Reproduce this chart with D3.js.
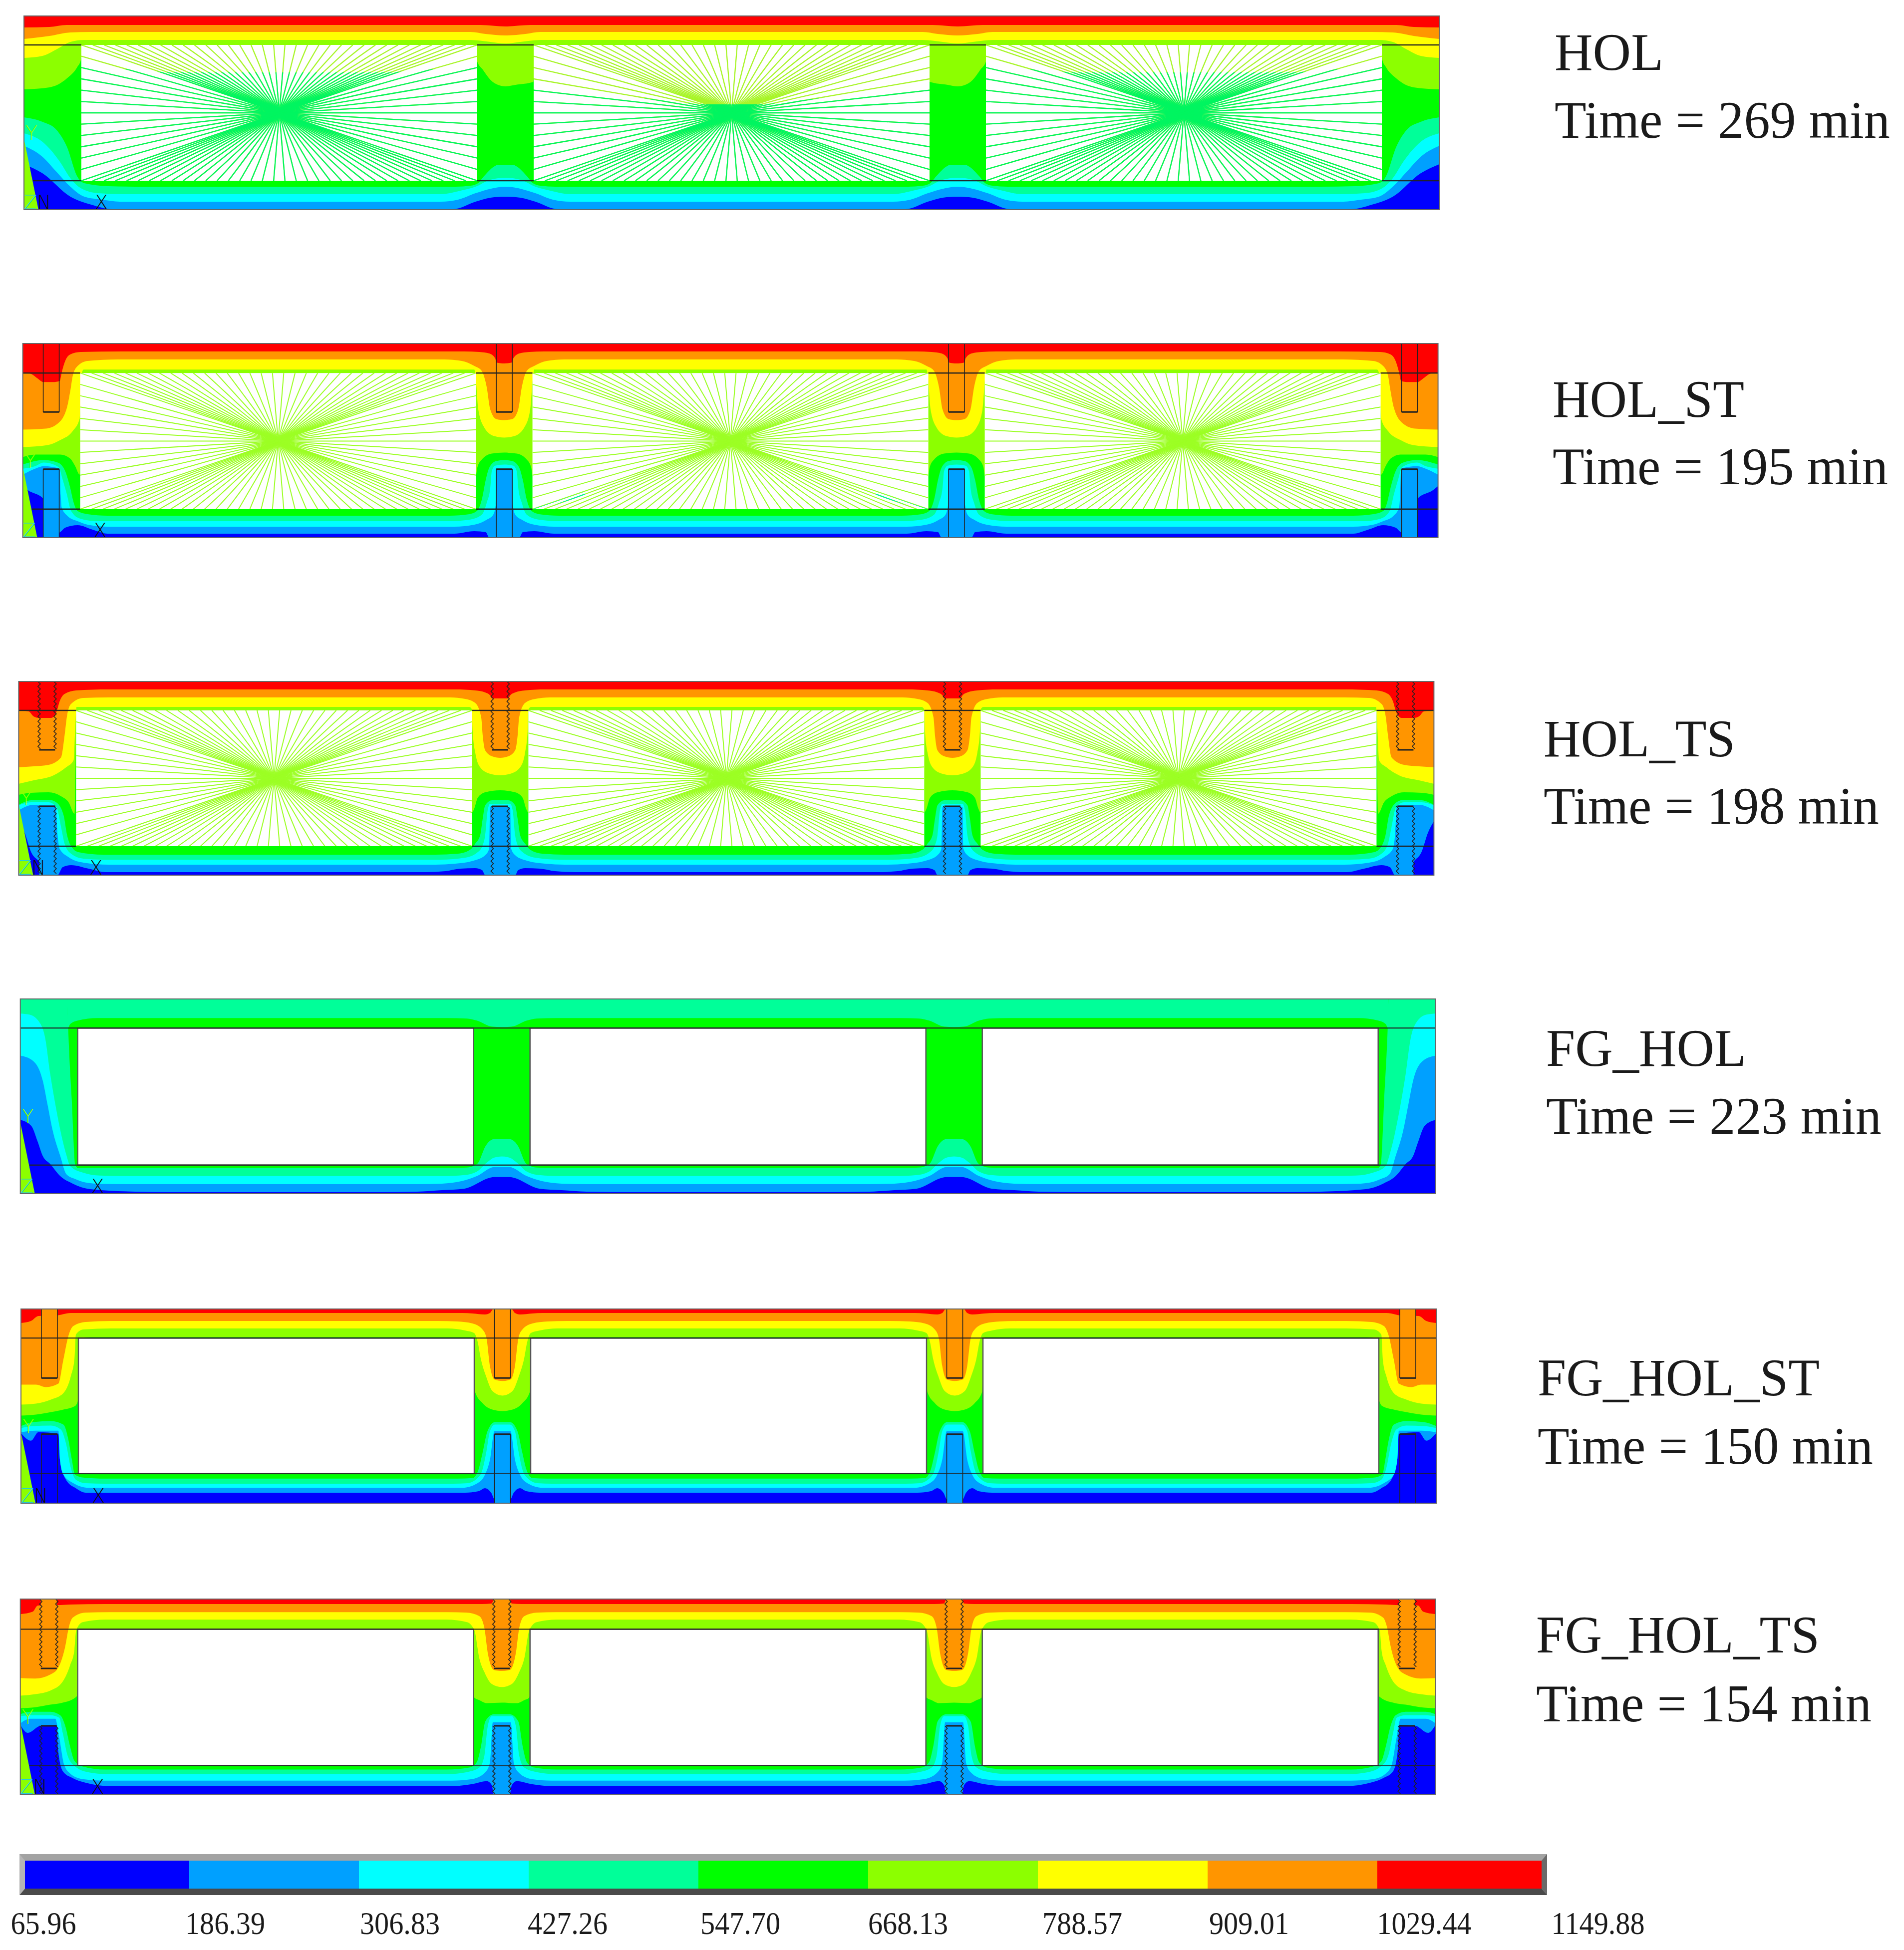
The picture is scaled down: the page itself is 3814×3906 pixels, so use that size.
<!DOCTYPE html>
<html>
<head>
<meta charset="utf-8">
<script src="https://cdnjs.cloudflare.com/ajax/libs/d3/7.8.5/d3.min.js"></script>
<style>
  body { margin: 0; background: #fff; }
  text { font-family: 'Liberation Serif', serif; fill: #1a1a1a; }
  .triad { font-family: 'DejaVu Sans', sans-serif; font-weight: 200; }
</style>
</head>
<body>
<div class="chart"></div>
<script>
const svgWidth = 3814;
const svgHeight = 3906;

// Legend
const tempTicks = [65.96, 186.39, 306.83, 427.26, 547.70, 668.13, 788.57, 909.01, 1029.44, 1149.88];
const tickText = ['65.96', '186.39', '306.83', '427.26', '547.70', '668.13', '788.57', '909.01', '1029.44', '1149.88'];
const bandNames = ['blue', 'azure', 'cyan', 'spring', 'green', 'lime', 'yellow', 'orange', 'red'];
const bandColors = ['#0000ff', '#00a0ff', '#00ffff', '#00ff99', '#00ff00', '#8cff00', '#ffff00', '#ff9500', '#ff0000'];

// Specimens
const panelNames = ['HOL', 'HOL_ST', 'HOL_TS', 'FG_HOL', 'FG_HOL_ST', 'FG_HOL_TS'];
const panelTimes = [269, 195, 198, 223, 150, 154];

// Isotherm boundaries in section coordinates (0-2835 along, 0-388 down), left half of the section.
// Each row: colour above the boundary, points along the edge web, points around the inner web (distance from web axis)
const holBands = [
  ['red', [[0,23],[51,22],[86,18],[200,18]], [[0,21],[50,18],[90,18]]],
  ['orange', [[0,46],[51,40],[93,33],[135,32],[200,32]], [[0,39],[40,36],[70,32],[110,32]]],
  ['yellow', [[0,84],[37,80],[65,67],[93,52],[121,48],[200,48]], [[0,55],[30,52],[70,48],[110,48]]],
  ['lime', [[0,147],[51,143],[86,125],[107,102],[114,88],[118,60],[200,60]], [[-90,60],[-60,60],[-57,90],[-45,108],[-30,128],[-15,138],[0,141],[20,138],[56,132],[60,60],[90,60]]],
  ['green', [[0,203],[37,212],[65,228],[86,262],[107,322],[121,335],[170,341],[240,342]], [[0,298],[15,298],[20,300],[44,322],[55,335],[70,340],[100,342]]],
  ['spring', [[0,235],[37,252],[72,292],[93,325],[114,345],[149,355],[200,357]], [[0,324],[30,328],[60,342],[90,350],[130,357]]],
  ['cyan', [[0,260],[37,282],[65,312],[93,342],[121,362],[157,368],[192,372],[240,372]], [[0,342],[60,355],[95,368],[130,372],[170,372]]],
  ['azure', [[0,297],[37,315],[93,362],[135,378],[177,387],[240,387]], [[0,362],[30,364],[60,372],[105,387],[140,387]]]
];

const holStBands = [
  ['red', [[0,58],[15,60],[30,70],[41,77],[60,77],[74,75],[78,58],[85,35],[95,22],[116,17],[200,16]], [[0,40],[16,38],[18,30],[30,20],[50,17],[80,16]]],
  ['orange', [[0,172],[46,170],[70,160],[88,130],[96,90],[100,65],[110,45],[130,35],[190,32]], [[0,153],[16,151],[28,132],[35,88],[45,55],[60,45],[85,35],[120,32]]],
  ['yellow', [[0,207],[50,203],[75,193],[100,175],[114,150],[118,60],[122,52],[200,52]], [[0,188],[20,185],[40,168],[52,132],[57,72],[60,52],[110,52]]],
  ['lime', [[0,227],[25,222],[75,222],[95,230],[105,245],[114,262],[118,59],[200,59]], [[0,218],[25,220],[45,232],[54,248],[57,265],[60,59],[110,59]]],
  ['green', [[0,242],[42,233],[70,238],[85,255],[95,288],[102,318],[110,335],[130,341],[170,344]], [[0,233],[16,235],[30,248],[37,272],[45,312],[55,335],[70,341],[110,344]]],
  ['spring', [[0,250],[25,245],[42,238],[72,247],[80,272],[88,300],[97,335],[115,350],[150,355]], [[0,242],[18,244],[25,255],[28,288],[35,318],[45,342],[70,352],[110,355]]],
  ['cyan', [[0,262],[25,250],[42,245],[74,250],[76,303],[78,328],[90,345],[110,355],[130,362],[170,366]], [[0,250],[16,250],[17,322],[22,342],[35,352],[60,362],[100,366]]],
  ['azure', [[0,285],[10,293],[41,310],[60,345],[72,378],[85,368],[110,363],[140,372],[170,380]], [[0,388],[30,388],[37,377],[60,375],[100,380]]]
];

const holTsBands = [
  ['red', [[0,58],[20,60],[30,70],[40,73],[65,73],[76,60],[82,40],[92,25],[115,18],[180,16]], [[0,34],[16,34],[20,28],[30,22],[50,18],[90,16]]],
  ['orange', [[0,172],[30,170],[60,167],[85,152],[92,108],[97,68],[105,45],[130,33],[180,32]], [[0,153],[16,150],[30,138],[35,108],[38,72],[50,43],[70,35],[100,32]]],
  ['yellow', [[0,205],[30,198],[70,188],[95,172],[110,158],[113,100],[116,51],[180,51]], [[0,188],[20,185],[40,172],[50,142],[55,100],[57,55],[62,51],[110,51]]],
  ['lime', [[0,227],[25,223],[60,222],[85,230],[100,242],[112,265],[116,58],[180,58]], [[0,218],[30,222],[45,233],[52,255],[56,262],[58,58],[110,58]]],
  ['green', [[0,247],[25,238],[60,237],[75,242],[90,268],[97,308],[105,330],[120,342],[170,347]], [[0,238],[16,238],[30,248],[35,275],[40,308],[50,325],[60,337],[85,345],[130,347]]],
  ['spring', [[0,248],[25,242],[60,242],[76,252],[85,292],[92,325],[105,345],[130,355],[170,357]], [[0,245],[20,245],[25,258],[30,308],[35,328],[45,342],[70,353],[120,357]]],
  ['cyan', [[0,258],[30,247],[74,248],[78,308],[82,335],[100,352],[130,363],[180,367]], [[0,252],[20,252],[22,335],[30,348],[50,358],[90,365],[130,367]]],
  ['azure', [[0,280],[12,303],[25,342],[40,360],[60,388],[78,388],[88,372],[105,368],[140,375],[175,382]], [[0,388],[30,388],[36,378],[50,374],[80,375],[110,380],[150,382]]]
];

const fgHolBands = [
  ['spring', [[0,0],[94,0],[95,58],[100,50],[115,43],[155,38],[220,38]], [[0,56],[20,55],[50,43],[70,39],[110,38]]],
  ['green', [[0,0],[94,0],[96,60],[103,200],[110,331],[116,337],[200,337]], [[0,279],[15,279],[33,294],[47,326],[57,333],[70,336],[110,337]]],
  ['spring', [[0,29],[18,31],[38,46],[50,79],[60,150],[72,220],[82,270],[92,310],[100,333],[125,346],[160,352],[220,353]], [[0,314],[15,316],[30,326],[50,344],[75,351],[120,353]]],
  ['cyan', [[0,113],[25,123],[45,163],[55,213],[65,263],[80,313],[92,349],[110,359],[150,368],[220,369]], [[0,335],[15,335],[50,353],[80,363],[120,368],[170,369]]],
  ['azure', [[0,241],[22,253],[35,285],[45,313],[60,329],[80,353],[105,368],[140,379],[230,384],[300,385]], [[0,355],[15,355],[75,378],[120,381],[170,384],[260,385]]]
];

const fgHolStBands = [
  ['red', [[0,28],[20,24],[35,14],[70,13],[100,8],[180,8]], [[0,0],[18,0],[25,8],[35,11],[60,9],[80,8]]],
  ['orange', [[0,151],[30,151],[50,156],[75,149],[85,101],[95,54],[105,34],[130,26],[180,24]], [[0,144],[16,141],[25,114],[32,58],[40,41],[60,29],[90,25],[130,24]]],
  ['yellow', [[0,191],[30,189],[60,181],[85,168],[100,134],[107,101],[110,51],[125,41],[180,39]], [[0,173],[20,164],[33,134],[43,101],[50,64],[57,48],[75,43],[110,39]]],
  ['lime', [[0,213],[30,211],[60,206],[85,201],[108,194],[114,184],[116,58],[140,56],[200,56]], [[0,204],[20,201],[40,188],[55,165],[57,100],[60,56],[110,56]]],
  ['green', [[0,234],[25,226],[60,224],[85,231],[95,261],[102,301],[108,331],[125,337],[170,339]], [[0,226],[15,226],[30,244],[40,288],[48,321],[60,338],[90,339]]],
  ['spring', [[0,238],[25,234],[60,233],[80,241],[90,268],[100,318],[110,341],[130,348],[170,349]], [[0,231],[15,231],[25,244],[32,284],[40,321],[50,338],[70,348],[100,349]]],
  ['cyan', [[0,246],[30,243],[75,243],[78,301],[85,331],[105,348],[135,357],[180,357]], [[0,244],[16,244],[25,301],[35,331],[50,348],[80,357],[110,357]]],
  ['azure', [[0,248],[20,263],[35,246],[75,249],[78,301],[90,341],[110,358],[130,367],[180,367]], [[0,380],[16,380],[22,368],[35,358],[48,364],[75,367],[110,367]]]
];

const fgHolTsBands = [
  ['red', [[0,30],[25,25],[35,13],[80,12],[100,11],[170,10]], [[0,0],[16,0],[20,9],[40,10],[80,10]]],
  ['orange', [[0,157],[30,158],[60,150],[75,138],[90,94],[97,57],[105,37],[130,27],[180,26]], [[0,143],[16,141],[28,108],[35,57],[45,34],[70,27],[110,26]]],
  ['yellow', [[0,192],[30,189],[60,182],[85,164],[100,131],[108,104],[112,62],[125,46],[170,41]], [[0,175],[20,169],[35,145],[45,118],[55,62],[70,46],[110,41]]],
  ['lime', [[0,217],[30,215],[60,210],[85,206],[110,196],[114,192],[116,60],[170,60]], [[0,206],[30,207],[45,201],[55,196],[57,180],[59,60],[110,60]]],
  ['green', [[0,229],[20,224],[60,224],[80,231],[90,252],[100,294],[108,321],[125,333],[170,339]], [[0,229],[16,229],[33,243],[42,294],[50,324],[65,335],[110,339]]],
  ['spring', [[0,233],[20,231],[60,231],[78,236],[85,266],[95,312],[110,333],[135,344],[175,348]], [[0,233],[20,233],[28,252],[35,312],[45,335],[70,344],[110,348]]],
  ['cyan', [[0,247],[20,238],[70,238],[78,275],[88,330],[100,347],[125,358],[170,361]], [[0,245],[18,245],[24,326],[33,344],[60,358],[100,361]]],
  ['azure', [[0,250],[15,266],[40,252],[72,250],[76,303],[85,342],[105,356],[130,365],[180,372]], [[0,388],[16,388],[20,370],[30,362],[60,368],[100,372]]]
];

const panelBands = [holBands, holStBands, holTsBands, fgHolBands, fgHolStBands, fgHolTsBands];

// Sheet layout
const panelLeft = [48, 45.6, 37.4, 40.7, 42, 40.7];
const panelTop = [32, 688, 1365, 2001, 2622, 3203];
const panelBottom = [420, 1077, 1753, 2391, 3011, 3594];
const flangeTop = [58, 59, 58, 58, 58, 60];
const flangeBottom = [330, 331, 330, 331, 329, 331];
const labelX = [3114, 3110, 3092, 3097, 3080, 3077];
const titleY = [140, 835, 1515, 2135, 2795, 3310];
const timeY = [276, 970, 1650, 2271, 2932, 3448];
const titleLength = [218, 384, 384, 401, 565, 568];
const tickNudge = [48, 72, 82, 78, 84, 80, 89, 83, 94, 102];

// Section geometry
const sectionWidth = 2835;
const sectionHeight = 388;
const webWidth = 113;
const edgeWidth = 115;
const cavityWidth = 793;
const webAxes = [964.5, 1870.5];
const boltAxes = [57, 964.5, 1870.5, 2778];
const boltHalf = 16;
const cavityLefts = [edgeWidth, edgeWidth + cavityWidth + webWidth, edgeWidth + 2 * (cavityWidth + webWidth)];

// Which specimens have what
const hasBolts = [false, true, true, false, true, true];
const threaded = [false, false, true, false, false, true];
const hasRays = [true, true, true, false, false, false];
const hasN = [true, false, true, false, true, true];
const fullFlange = [false, false, false, true, true, true];
const upperBoltFill = [null, null, null, null, 'orange', 'orange'];
const upperBoltEnd = [0, 137, 137, 0, 138, 138];
const lowerBoltStart = [0, 251, 250, 0, 250, 252];
const edgeLowerBolt = ['azure', 'azure', 'azure', 'azure', 'blue', 'blue'];

// Radiation links in the cavities: perimeter node counts and the recoloured zones (x from cavity edge, y in section)
const topNodes = 35;
const sideNodes = 12;
const rayColor = ['#a8f528', '#9cff24', '#9cff24'];
const rayWidth = [2.3, 2, 2];
const holOuterZone = [[0,100],[173,113],[620,113],[793,100],[793,330],[0,330]];
const holMiddleZone = [[0,140],[330,177],[463,177],[793,140],[793,330],[0,330]];
const holStMiddleZone = [[0,331],[105,296],[105,304],[0,335],[793,335],[688,304],[688,296],[793,331]];
const rayZones = [[holOuterZone, holMiddleZone, holOuterZone], [null, holStMiddleZone, null], [null, null, null]];
const rayZoneColor = ['#00f560', '#00f0a0', null];

// Triad wedge at the lower left corner of every section
const wedge = [[0,246],[29,388],[0,388]];

const svg = d3
  .select('.chart')
  .append('svg')
  .attr('width', svgWidth)
  .attr('height', svgHeight);

svg.append('rect')
  .attr('width', svgWidth)
  .attr('height', svgHeight)
  .attr('fill', '#fff');

const bandColor = d3.scaleOrdinal().domain(bandNames).range(bandColors);

// Builds the full boundary from the left half and mirrors it about the middle of the section
function fullCurve(edge, web) {
  const signed = web[0][0] < 0 ? web : [...web.slice(1).reverse().map(([d, y]) => [-d, y]), ...web];
  const half = [...edge, ...signed.map(([d, y]) => [webAxes[0] + d, y])];
  const mirrored = half.slice().reverse().map(([x, y]) => [sectionWidth - x, y]);
  return [...half, ...mirrored];
}

function threadPoints(x, y0, y1) {
  return d3.range(y0, y1, 5).map((y, i) => [x + (i % 2 ? 2.5 : -2.5), y]);
}

function drawPanel(i) {
  const x = d3.scaleLinear().domain([0, sectionWidth]).range([panelLeft[i], panelLeft[i] + sectionWidth]);
  const y = d3.scaleLinear().domain([0, sectionHeight]).range([panelTop[i], panelBottom[i]]);
  const g = svg.append('g').attr('class', `panel-${panelNames[i]}`);

  g.append('rect')
    .attr('x', x(0))
    .attr('y', y(0))
    .attr('width', x(sectionWidth) - x(0))
    .attr('height', y(sectionHeight) - y(0))
    .attr('fill', bandColor('blue'));

  const area = d3.area()
    .x(d => x(d[0]))
    .y0(y(0))
    .y1(d => y(d[1]))
    .curve(d3.curveMonotoneX);

  // coldest boundary first, the hotter ones paint over it
  panelBands[i].slice().reverse().forEach(band => {
    g.append('path')
      .attr('d', area(fullCurve(band[1], band[2])))
      .attr('fill', bandColor(band[0]));
  });

  // lower bolts stay cold, they are a different material
  if (hasBolts[i]) {
    boltAxes.forEach((axis, b) => {
      const edgeBolt = b === 0 || b === 3;
      g.append('rect')
        .attr('x', x(axis - boltHalf))
        .attr('y', y(lowerBoltStart[i]))
        .attr('width', x(axis + boltHalf) - x(axis - boltHalf))
        .attr('height', y(sectionHeight) - y(lowerBoltStart[i]))
        .attr('fill', bandColor(edgeBolt ? edgeLowerBolt[i] : 'azure'));
      if (upperBoltFill[i]) {
        g.append('rect')
          .attr('x', x(axis - boltHalf))
          .attr('y', y(0))
          .attr('width', x(axis + boltHalf) - x(axis - boltHalf))
          .attr('height', y(upperBoltEnd[i]) - y(0))
          .attr('fill', bandColor(upperBoltFill[i]));
      }
    });
  }

  g.append('path')
    .attr('d', d3.line().x(d => x(d[0])).y(d => y(d[1]))(wedge) + 'Z')
    .attr('fill', bandColor('lime'));

  // cavities
  cavityLefts.forEach((left, c) => {
    g.append('rect')
      .attr('x', x(left))
      .attr('y', y(flangeTop[i]))
      .attr('width', x(left + cavityWidth) - x(left))
      .attr('height', y(flangeBottom[i]) - y(flangeTop[i]))
      .attr('fill', '#fff')
      .attr('stroke', hasRays[i] ? 'none' : '#555')
      .attr('stroke-width', 2.5);

    if (hasRays[i]) {
      drawRays(g, i, c, left, x, y);
    }
  });

  // flange lines
  const flangeSpans = fullFlange[i]
    ? [[0, sectionWidth]]
    : [[0, edgeWidth], ...webAxes.map(a => [a - webWidth / 2, a + webWidth / 2]), [sectionWidth - edgeWidth, sectionWidth]];
  [flangeTop[i], flangeBottom[i]].forEach((level, l) => {
    flangeSpans.forEach((span, s) => {
      g.append('line')
        .attr('x1', x(l === 1 && s === 0 ? 18 : span[0]))
        .attr('x2', x(span[1]))
        .attr('y1', y(level))
        .attr('y2', y(level))
        .attr('stroke', '#222')
        .attr('stroke-opacity', fullFlange[i] ? 0.8 : 0.95)
        .attr('stroke-width', 2.5);
    });
  });

  if (hasBolts[i]) {
    boltAxes.forEach(axis => drawBolt(g, i, axis, x, y));
  }

  g.append('rect')
    .attr('x', x(0))
    .attr('y', y(0))
    .attr('width', x(sectionWidth) - x(0))
    .attr('height', y(sectionHeight) - y(0))
    .attr('fill', 'none')
    .attr('stroke', '#666')
    .attr('stroke-width', 2);

  // triad letters
  const triad = [
    { t: 'Y', xp: 15, yp: 248, color: bandColor('lime') },
    { t: 'Z', xp: 13, yp: 387, color: '#22ccdd' },
    { t: 'X', xp: 155, yp: 387, color: '#111' }
  ];
  if (hasN[i]) {
    triad.push({ t: 'N', xp: 40, yp: 387, color: '#111' });
  }
  g.selectAll('.triad')
    .data(triad)
    .enter()
    .append('text')
    .attr('class', 'triad')
    .attr('x', d => x(d.xp))
    .attr('y', d => y(d.yp))
    .attr('text-anchor', 'middle')
    .attr('font-size', 39)
    .style('fill', d => d.color)
    .text(d => d.t);

  // labels on the right
  g.append('text')
    .attr('x', labelX[i])
    .attr('y', titleY[i])
    .attr('font-size', 106)
    .attr('textLength', titleLength[i])
    .attr('lengthAdjust', 'spacingAndGlyphs')
    .text(panelNames[i]);

  g.append('text')
    .attr('x', labelX[i])
    .attr('y', timeY[i])
    .attr('font-size', 106)
    .attr('textLength', 672)
    .attr('lengthAdjust', 'spacingAndGlyphs')
    .text(`Time = ${panelTimes[i]} min`);
}

function drawRays(g, i, c, left, x, y) {
  const top = flangeTop[i];
  const bottom = flangeBottom[i];
  const topStep = d3.range(1, topNodes).map(n => [left + n * cavityWidth / topNodes, top, left + cavityWidth - n * cavityWidth / topNodes, bottom]);
  const sideStep = d3.range(1, sideNodes).map(n => [left, top + n * (bottom - top) / sideNodes, left + cavityWidth, bottom - n * (bottom - top) / sideNodes]);
  const rays = [...topStep, ...sideStep, [left, top, left + cavityWidth, bottom], [left, bottom, left + cavityWidth, top]];
  const clipId = `clip-${i}-${c}`;
  g.append('clipPath')
    .attr('id', clipId)
    .append('rect')
    .attr('x', x(left))
    .attr('y', y(top))
    .attr('width', x(left + cavityWidth) - x(left))
    .attr('height', y(bottom) - y(top));

  const layer = g.append('g').attr('clip-path', `url(#${clipId})`);
  const addRays = (parent, color) => parent.selectAll('line')
    .data(rays)
    .enter()
    .append('line')
    .attr('x1', d => x(d[0]))
    .attr('y1', d => y(d[1]))
    .attr('x2', d => x(d[2]))
    .attr('y2', d => y(d[3]))
    .attr('stroke', color)
    .attr('stroke-width', rayWidth[i]);

  addRays(layer.append('g'), rayColor[i]);

  const zone = rayZones[i][c];
  if (zone) {
    const zoneId = `zone-${i}-${c}`;
    g.append('clipPath')
      .attr('id', zoneId)
      .append('path')
      .attr('d', d3.line().x(d => x(left + d[0])).y(d => y(d[1]))(zone) + 'Z');
    addRays(layer.append('g').attr('clip-path', `url(#${zoneId})`), rayZoneColor[i]);
  }
}

function drawBolt(g, i, axis, x, y) {
  const line = d3.line().x(d => x(d[0])).y(d => y(d[1]));
  const side = (xp, y0, y1) => threaded[i] ? line(threadPoints(xp, y0, y1)) : line([[xp, y0], [xp, y1]]);
  const spans = [[0, upperBoltEnd[i]], [lowerBoltStart[i], sectionHeight]];
  spans.forEach(([y0, y1], s) => {
    [axis - boltHalf, axis + boltHalf].forEach(xp => {
      g.append('path')
        .attr('d', side(xp, y0, y1))
        .attr('fill', 'none')
        .attr('stroke', '#222')
        .attr('stroke-width', 1.6);
    });
    g.append('line')
      .attr('x1', x(axis - boltHalf))
      .attr('x2', x(axis + boltHalf))
      .attr('y1', y(s === 0 ? y1 : y0))
      .attr('y2', y(s === 0 ? y1 : y0))
      .attr('stroke', '#222')
      .attr('stroke-width', 3);
  });
}

panelNames.forEach((name, i) => drawPanel(i));

// Colour bar
const barOuter = [39, 3099];
const barTop = 3714;
const barBottom = 3796;
const barBevel = 11;
const barX = d3.scaleLinear().domain([tempTicks[0], tempTicks[tempTicks.length - 1]]).range(barOuter);

const bar = svg.append('g').attr('class', 'colour-bar');

bar.append('rect')
  .attr('x', barOuter[0])
  .attr('y', barTop)
  .attr('width', barOuter[1] - barOuter[0])
  .attr('height', barBottom - barTop)
  .attr('fill', '#a3a3a3');

const bevels = [
  { color: '#4a4a4a', pts: [[barOuter[0], barBottom], [barOuter[1], barBottom], [barOuter[1] - barBevel, barBottom - barBevel - 2], [barOuter[0] + barBevel, barBottom - barBevel - 2]] },
  { color: '#6a6a6a', pts: [[barOuter[1], barTop], [barOuter[1], barBottom], [barOuter[1] - barBevel, barBottom - barBevel - 2], [barOuter[1] - barBevel, barTop + barBevel + 2]] },
  { color: '#b5b5b5', pts: [[barOuter[0], barTop], [barOuter[0], barBottom], [barOuter[0] + barBevel, barBottom - barBevel - 2], [barOuter[0] + barBevel, barTop + barBevel + 2]] }
];

bar.selectAll('.bevel')
  .data(bevels)
  .enter()
  .append('path')
  .attr('class', 'bevel')
  .attr('d', d => d3.line()(d.pts) + 'Z')
  .attr('fill', d => d.color);

bar.selectAll('.swatch')
  .data(bandNames)
  .enter()
  .append('rect')
  .attr('class', 'swatch')
  .attr('x', (d, i) => Math.max(barX(tempTicks[i]), barOuter[0] + barBevel))
  .attr('y', barTop + barBevel + 2)
  .attr('width', (d, i) => Math.min(barX(tempTicks[i + 1]), barOuter[1] - barBevel) - Math.max(barX(tempTicks[i]), barOuter[0] + barBevel))
  .attr('height', barBottom - barTop - 2 * barBevel - 4)
  .attr('fill', d => bandColor(d));

bar.selectAll('.tick-label')
  .data(tickText)
  .enter()
  .append('text')
  .attr('class', 'tick-label')
  .attr('x', (d, i) => barX(tempTicks[i]) + tickNudge[i])
  .attr('y', 3874)
  .attr('text-anchor', 'middle')
  .attr('font-size', 64)
  .text(d => d)
  .attr('textLength', function() { return this.getComputedTextLength() * 0.91; })
  .attr('lengthAdjust', 'spacingAndGlyphs');
</script>
</body>
</html>
